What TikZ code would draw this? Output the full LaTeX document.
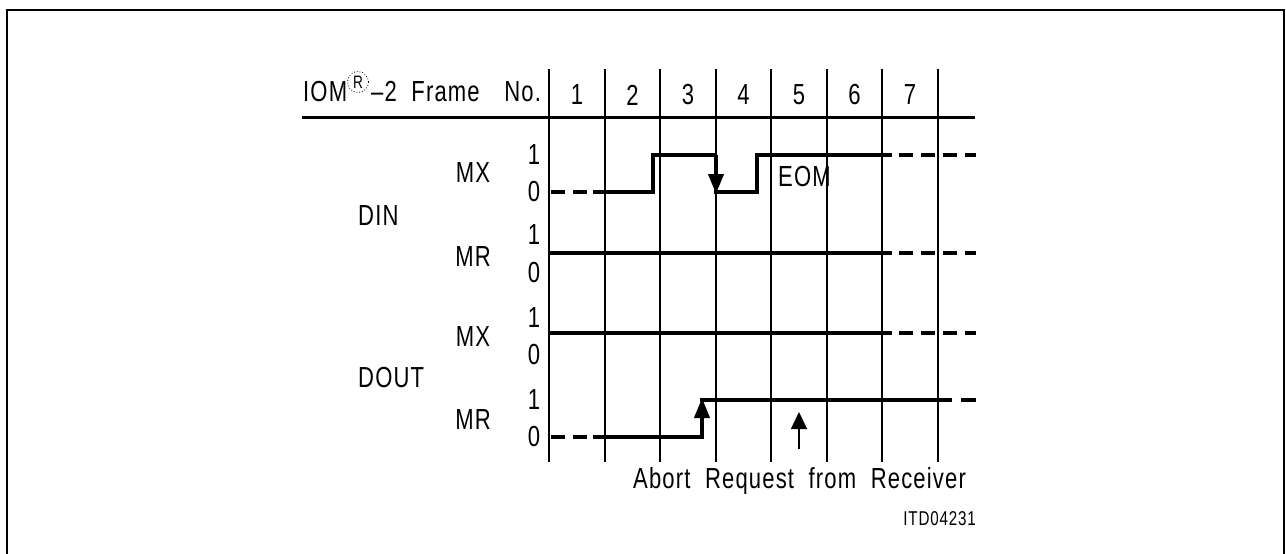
\documentclass[tikz,border=0pt]{standalone}
\usepackage{fontspec}
\setmainfont{Liberation Sans}[FakeStretch=0.76, WordSpace=2.0, LetterSpace=4]
\usetikzlibrary{arrows.meta}
\begin{document}
\begin{tikzpicture}[x=1pt,y=-1pt,
  lbl/.style={font=\fontsize{29}{32}\selectfont, inner sep=0pt},
  smalllbl/.style={font=\fontsize{20}{24}\selectfont, inner sep=0pt},
  gridline/.style={line width=2pt},
  wave/.style={line width=4pt},
  dwave/.style={line width=4pt, dash pattern=on 14pt off 8pt},
  bigtip/.style={-{Triangle[length=20pt 0 0,width=15pt 0 0]}},
  thintip/.style={line width=1.5pt,-{Triangle[length=17pt 0 0,width=16pt 0 0]}}]
\useasboundingbox (0,0) rectangle (1286,554);
% frame
\draw[line width=2.5pt] (7,560) -- (7,10) -- (1284,10) -- (1284,560);
% header
\draw[line width=3pt] (302,117) -- (975,117);
\foreach \x in {549,605,660,716,771,827,882,938}
  \draw[gridline] (\x,69) -- (\x,462);
\node[lbl,anchor=base west] (iom) at (303,101) {IOM};
\node[draw,circle,dotted,line width=0.8pt,minimum size=21pt,inner sep=0pt,
      font=\fontsize{18}{20}\selectfont] (reg) at (358,82) {R};
\node[lbl,anchor=base west] (frame) at (371,101) {–2 Frame\hspace{10pt} No.};
\foreach \x/\n in {577/1,632.5/2,688/3,743.5/4,799/5,854.5/6,910/7}
  \node[lbl] (n\n) at (\x,95) {\n};
% left labels
\node[lbl,anchor=west] (din) at (358,216) {DIN};
\node[lbl,anchor=west] (dout) at (358,378) {DOUT};
\node[lbl] (mx1) at (473,173) {MX};
\node[lbl] (mr1) at (473,257) {MR};
\node[lbl] (mx2) at (473,337) {MX};
\node[lbl] (mr2) at (473,420) {MR};
\node[lbl] (a1) at (534,155) {1};
\node[lbl] (a0) at (534,192) {0};
\node[lbl] (b1) at (534,235) {1};
\node[lbl] (b0) at (534,273) {0};
\node[lbl] (c1) at (534,318) {1};
\node[lbl] (c0) at (534,355) {0};
\node[lbl] (d1) at (534,400) {1};
\node[lbl] (d0) at (534,437) {0};
% DIN MX
\draw[dwave] (551,192) -- (593,192);
\draw[wave,line join=miter] (593,192) -- (653,192) -- (653,155) -- (716,155);
\draw[wave,bigtip] (716,155) -- (716,194);
\draw[wave,line join=miter] (714,192) -- (757,192) -- (757,155) -- (892,155);
\draw[dwave] (899,155) -- (976,155);
\node[lbl,anchor=west] (eom) at (778,177) {EOM};
% DIN MR
\draw[wave] (549,253) -- (892,253);
\draw[dwave] (899,253) -- (976,253);
% DOUT MX
\draw[wave] (549,333) -- (892,333);
\draw[dwave] (899,333) -- (976,333);
% DOUT MR
\draw[dwave] (551,437) -- (593,437);
\draw[wave,line join=miter] (593,437) -- (702,437) -- (702,425);
\draw[wave,bigtip] (702,437) -- (702,398);
\draw[wave] (700,400) -- (952,400);
\draw[wave] (961,400) -- (976,400);
% receiver arrow
\coordinate (rs) at (799,449);
\coordinate (rt) at (799,412);
\draw[thintip] (rs) -- (rt);
\node[lbl,anchor=base west] (abort) at (633,488) {Abort Request from Receiver};
\node[smalllbl,anchor=base east] (itd) at (976,525) {ITD04231};
\end{tikzpicture}
\end{document}
